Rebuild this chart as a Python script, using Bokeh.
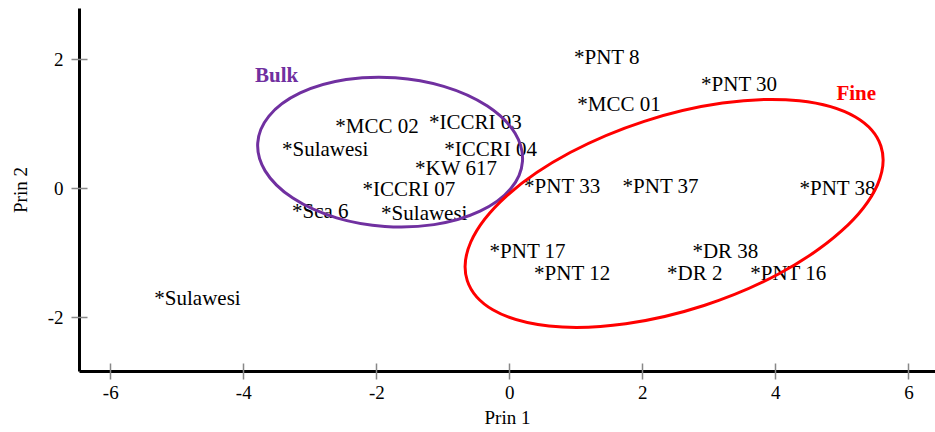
from bokeh.plotting import figure
from bokeh.models import ColumnDataSource, Range1d, FixedTicker
from bokeh.core.properties import value
from bokeh.embed import file_html
from bokeh.resources import INLINE

# point labels (the "*" is the point symbol)
names = ["PNT 8", "PNT 30", "MCC 01", "MCC 02", "ICCRI 03", "Sulawesi", "ICCRI 04",
         "KW 617", "ICCRI 07", "Sca 6", "Sulawesi", "PNT 33", "PNT 37", "PNT 38",
         "PNT 17", "DR 38", "PNT 12", "DR 2", "PNT 16", "Sulawesi"]
prin1 = [1.04, 2.95, 1.09, -2.55, -1.14, -3.35, -0.91, -1.35, -2.14, -3.20, -1.86,
         0.29, 1.77, 4.43, -0.23, 2.82, 0.44, 2.44, 3.69, -5.27]
prin2 = [2.04, 1.62, 1.32, 0.98, 1.04, 0.62, 0.62, 0.33, 0.00, -0.34, -0.37,
         0.04, 0.04, 0.02, -0.97, -0.97, -1.31, -1.31, -1.31, -1.69]

# group ellipses
groups = ["Bulk", "Fine"]
group_x = [-1.80, 2.47]
group_y = [0.57, -0.38]
group_w = [3.99, 6.54]
group_h = [2.31, 3.00]
group_angle = [-4, 18]
group_color = ["#7030A0", "#FF0000"]
group_label_x = [-3.83, 4.91]
group_label_y = [1.76, 1.48]

x_ticks = [-6, -4, -2, 0, 2, 4, 6]
x_tick_labels = ["-6", "-4", "-2", "0", "2", "4", "6"]
y_ticks = [-2, 0, 2]
y_tick_labels = ["-2", "0", "2"]

FONT = "Liberation Serif"

p = figure(width=935, height=432, output_backend="svg", toolbar_location=None,
           x_range=Range1d(-6.47, 6.40), y_range=Range1d(-2.83, 2.795),
           min_border_left=79, min_border_right=0, min_border_top=8, min_border_bottom=61,
           x_axis_label="Prin 1", y_axis_label="Prin 2")
p.outline_line_color = None
p.grid.visible = False

pts = ColumnDataSource(dict(x=prin1, y=prin2, t=["*" + n for n in names]))
p.text(x="x", y="y", text="t", source=pts, text_font=value(FONT), text_font_size="21px",
       text_color="black", text_align="left", text_baseline="middle", x_offset=-5)

ell = ColumnDataSource(dict(x=group_x, y=group_y, w=group_w, h=group_h,
                            a=group_angle, c=group_color))
p.ellipse(x="x", y="y", width="w", height="h", angle="a", angle_units="deg",
          source=ell, fill_color=None, line_color="c", line_width=3)

lab = ColumnDataSource(dict(x=group_label_x, y=group_label_y, t=groups, c=group_color))
p.text(x="x", y="y", text="t", source=lab, text_font=value(FONT), text_font_size="21px",
       text_font_style="bold", text_color="c", text_align="left", text_baseline="middle")

for ax in (p.xaxis[0], p.yaxis[0]):
    ax.axis_line_width = 3
    ax.axis_line_color = "black"
    ax.major_tick_line_color = "#888888"
    ax.major_tick_line_width = 1.5
    ax.major_tick_in = 8
    ax.major_tick_out = 8
    ax.minor_tick_line_color = None
    ax.major_label_text_font = FONT
    ax.major_label_text_font_size = "19px"
    ax.major_label_text_color = "black"
    ax.axis_label_text_font = FONT
    ax.axis_label_text_font_size = "19px"
    ax.axis_label_text_font_style = "normal"
    ax.axis_label_text_color = "black"

p.xaxis.ticker = FixedTicker(ticks=x_ticks)
p.yaxis.ticker = FixedTicker(ticks=y_ticks)
p.xaxis.major_label_overrides = dict(zip(x_ticks, x_tick_labels))
p.yaxis.major_label_overrides = dict(zip(y_ticks, y_tick_labels))
p.xaxis.major_label_standoff = 6
p.xaxis.axis_label_standoff = 5
p.yaxis.major_label_standoff = 8
p.yaxis.axis_label_standoff = 14

open("out.html", "w").write(file_html(p, INLINE))
